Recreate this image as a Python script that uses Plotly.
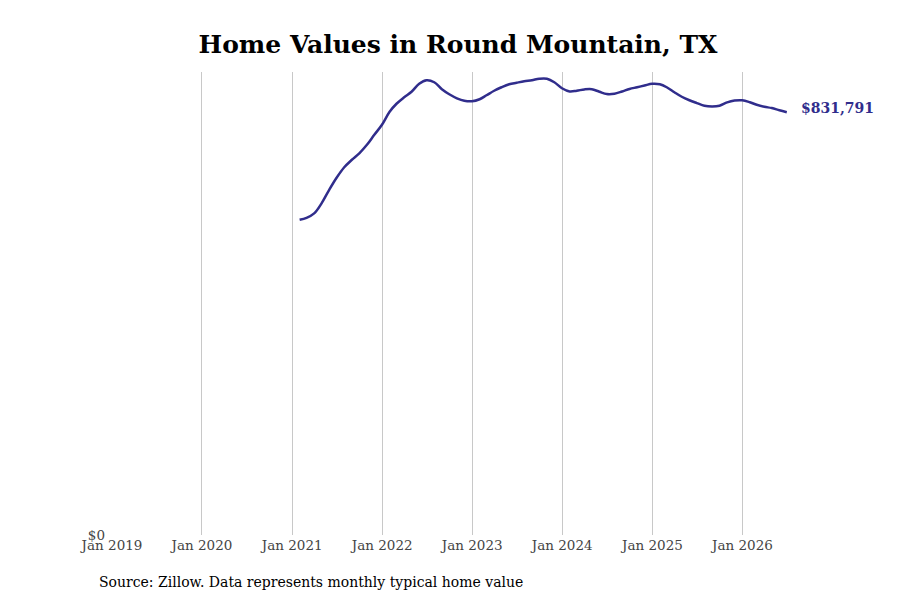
import pandas as pd
import plotly.graph_objs as go

# Monthly typical home value (Zillow month-end dates)
months = pd.date_range('2021-01-31', '2026-06-30', freq='ME')
values = [
    620100, 624100, 632900, 652600, 679200, 702800, 723500, 738300, 751100, 767800, 787500, 807200,
    832800, 848500, 861300, 872100, 887900, 894800, 890800, 877100, 867200, 859300, 854400, 853400,
    857400, 865200, 874100, 881000, 886900, 889900, 892800, 894800, 897700, 897700, 890800, 879000,
    872700, 874100, 876700, 877100, 872100, 867600, 868200, 872700, 877600, 881000, 884500, 887900,
    886900, 881000, 871200, 862300, 855400, 849900, 844600, 843200, 844600, 851100, 854800, 855400,
    851500, 846500, 842600, 840000, 835700, 831791,
]
tick_dates = ['2019-01-01', '2020-01-01', '2021-01-01', '2022-01-01', '2023-01-01',
              '2024-01-01', '2025-01-01', '2026-01-01']
tick_labels = ['Jan 2019', 'Jan 2020', 'Jan 2021', 'Jan 2022', 'Jan 2023',
               'Jan 2024', 'Jan 2025', 'Jan 2026']

line_color = '#302d8c'

trace = go.Scatter(x=months, y=values, mode='lines', line=dict(color=line_color, width=2.5, shape='spline'),
                   hoverinfo='x+y', showlegend=False)

# page body adds an 8px offset, so margins are shifted to compensate
layout = go.Layout(
    width=900, height=600,
    font=dict(family='DejaVu Serif', color='#444444', size=13.5),
    title=dict(text='<b>Home Values in Round Mountain, TX</b>', x=0.5, xanchor='center',
               y=1 - 36 / 600, yanchor='middle', yref='container',
               font=dict(family='DejaVu Serif', size=25, color='black')),
    margin=dict(l=104, r=118, t=64, b=73),
    plot_bgcolor='white', paper_bgcolor='white',
    xaxis=dict(range=['2019-01-01', '2026-07-13'], tickvals=tick_dates, ticktext=tick_labels,
               showgrid=True, gridcolor='#c8c8c8', gridwidth=1, zeroline=False, showline=False,
               ticks='', ticklabelstandoff=0),
    yaxis=dict(range=[0, 911000], tickvals=[0], ticktext=['$0'], showgrid=False,
               zeroline=False, showline=False, ticks='', ticklabelstandoff=6),
    annotations=[
        dict(x=months[-1], y=values[-1], xref='x', yref='y', text='<b>$%s</b>' % format(values[-1], ','),
             showarrow=False, xanchor='left', yanchor='middle', xshift=12, yshift=4,
             font=dict(family='DejaVu Serif', size=14, color=line_color)),
        dict(x=-0.022, y=-0.1015, xref='paper', yref='paper', xanchor='left', yanchor='middle',
             text='Source: Zillow. Data represents monthly typical home value', showarrow=False,
             font=dict(family='DejaVu Serif', size=14, color='black')),
    ],
)

fig = go.Figure(data=[trace], layout=layout)
fig.write_html("out.html")
